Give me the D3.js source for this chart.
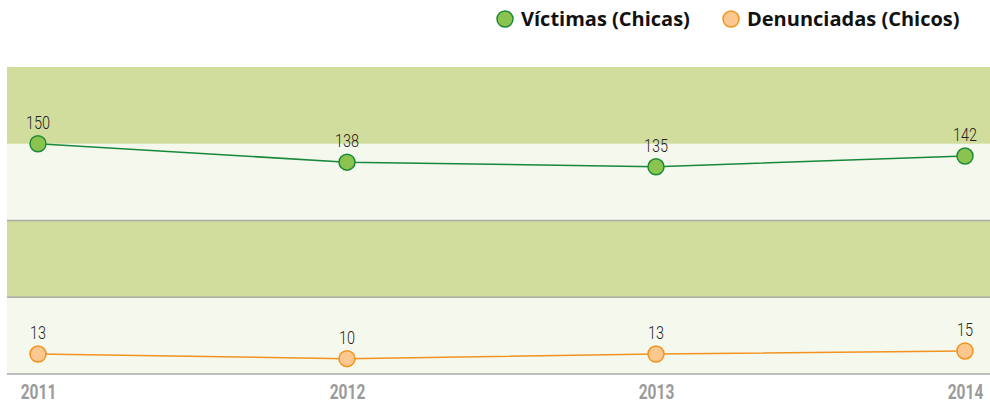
<!DOCTYPE html>
<html>
<head>
<meta charset="utf-8">
<script src="https://cdn.jsdelivr.net/npm/d3@7"></script>
<style>
  body { margin: 0; background: #fff; }
  .val { font-family: Roboto, sans-serif; font-weight: 300; font-size: 19px; fill: #222; }
  .tick text { font-family: Roboto, sans-serif; font-weight: bold; font-size: 21px; fill: #9a9a9a; }
  .legend text { font-family: "Open Sans", sans-serif; font-weight: bold; font-size: 20px; fill: #111; }
</style>
</head>
<body>
<div id="chart"></div>
<script>
const years = ["2011", "2012", "2013", "2014"];
const victimas = [150, 138, 135, 142];
const denunciadas = [13, 10, 13, 15];
const bands = [0, 50, 100, 150];

const width = 990, height = 404;
const svg = d3.select("#chart").append("svg")
    .attr("width", width)
    .attr("height", height);

const plotLeft = 7, plotRight = 990, plotTop = 67, plotBottom = 374;

const x = d3.scalePoint().domain(years).range([38, 965]);
const y = d3.scaleLinear().domain([0, 200]).range([plotBottom, plotTop]);

// background bands
svg.append("g").selectAll("rect")
    .data(bands)
    .enter().append("rect")
    .attr("x", plotLeft)
    .attr("width", plotRight - plotLeft)
    .attr("y", d => y(d + 50))
    .attr("height", d => y(d) - y(d + 50))
    .attr("fill", (d, i) => i % 2 ? "#d1dd9c" : "#f5f8ed");

// grid lines
svg.append("g").selectAll("line")
    .data([0, 50, 100])
    .enter().append("line")
    .attr("x1", plotLeft).attr("x2", plotRight)
    .attr("y1", d => y(d)).attr("y2", d => y(d))
    .attr("stroke", "#aaa")
    .attr("stroke-width", 1.5);

// x axis
const xAxis = svg.append("g")
    .attr("transform", `translate(0,${plotBottom})`)
    .call(d3.axisBottom(x).tickSize(0).tickPadding(10));
xAxis.select(".domain").remove();
// condensed look
xAxis.selectAll(".tick text").attr("transform", "scale(0.74,1)");

const series = [
    { name: "Víctimas (Chicas)", values: victimas, line: "#17893a", fill: "#8bc34f", stroke: "#1d8a3a" },
    { name: "Denunciadas (Chicos)", values: denunciadas, line: "#f29320", fill: "#fcc88f", stroke: "#f29320" }
];

const line = d3.line()
    .x((d, i) => x(years[i]))
    .y(d => y(d));

series.forEach(s => {
    svg.append("path")
        .datum(s.values)
        .attr("d", line)
        .attr("fill", "none")
        .attr("stroke", s.line)
        .attr("stroke-width", 1.5);

    svg.append("g").selectAll("circle")
        .data(s.values)
        .enter().append("circle")
        .attr("cx", (d, i) => x(years[i]))
        .attr("cy", d => y(d))
        .attr("r", 8)
        .attr("fill", s.fill)
        .attr("stroke", s.stroke)
        .attr("stroke-width", 1.5);

    svg.append("g").selectAll("text")
        .data(s.values)
        .enter().append("text")
        .attr("class", "val")
        .attr("transform", (d, i) => `translate(${x(years[i])},${y(d) - 15}) scale(0.76,1)`)
        .attr("text-anchor", "middle")
        .text(d => d);
});

// legend
const legendX = [505, 731];
const legend = svg.append("g").attr("class", "legend");
series.forEach((s, i) => {
    legend.append("circle")
        .attr("cx", legendX[i]).attr("cy", 19)
        .attr("r", 8)
        .attr("fill", s.fill)
        .attr("stroke", s.stroke)
        .attr("stroke-width", 1.5);
    legend.append("text")
        .attr("x", legendX[i] + 16)
        .attr("y", 26)
        .text(s.name);
});
</script>
</body>
</html>
